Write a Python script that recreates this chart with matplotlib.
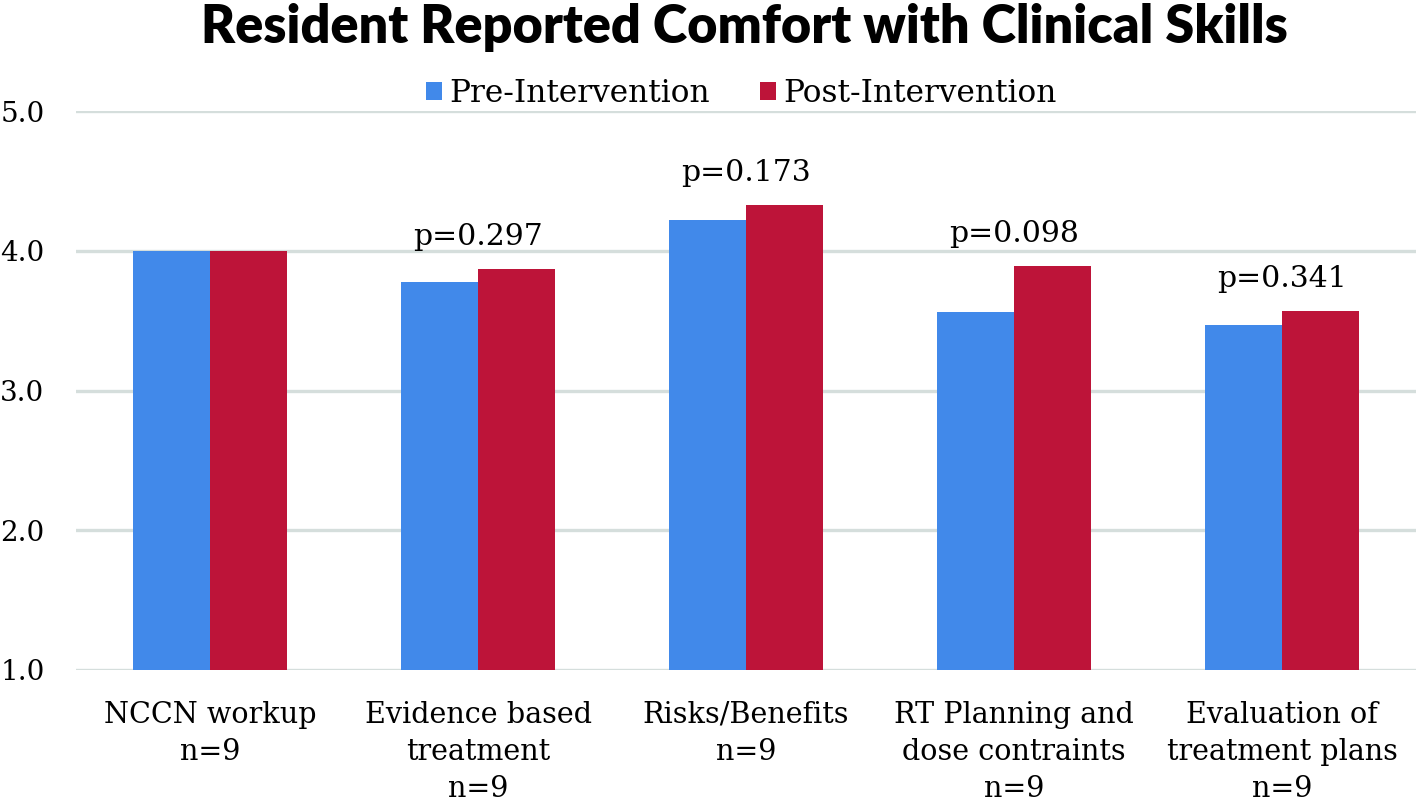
import matplotlib
matplotlib.use("Agg")
import matplotlib.pyplot as plt
import numpy as np

categories = ["NCCN workup\nn=9", "Evidence based\ntreatment\nn=9", "Risks/Benefits\nn=9",
              "RT Planning and\ndose contraints\nn=9", "Evaluation of\ntreatment plans\nn=9"]
pre = [4.00, 3.78, 4.22, 3.56, 3.47]
post = [4.00, 3.87, 4.33, 3.89, 3.57]
pvalues = [None, "p=0.297", "p=0.173", "p=0.098", "p=0.341"]
yticks = [1.0, 2.0, 3.0, 4.0, 5.0]

blue = "#4189EA"
red = "#BD1439"
serif = "DejaVu Serif"

fig = plt.figure(figsize=(14.18, 8.08), dpi=100)
ax = fig.add_axes([0.0536, 0.1708, 0.9450, 0.6918])

x = np.arange(len(categories))
w = 0.287
ax.bar(x - w / 2, np.array(pre) - 1.0, w, bottom=1.0, color=blue, zorder=3, label="Pre-Intervention")
ax.bar(x + w / 2, np.array(post) - 1.0, w, bottom=1.0, color=red, zorder=3, label="Post-Intervention")

for xi, p, a, b in zip(x, pvalues, pre, post):
    if p:
        ax.annotate(p, (xi, max(a, b)), xytext=(0, 13), textcoords="offset points",
                    ha="center", va="bottom", fontsize=21.5, family=serif)

ax.set_xlim(-0.5, len(categories) - 0.5)
ax.set_ylim(1.0, 5.0)
ax.set_yticks(yticks)
ax.set_yticklabels([f"{v:.1f}" for v in yticks], fontsize=20, family=serif)
ax.set_xticks(x)
ax.set_xticklabels(categories, fontsize=20.6, family=serif, linespacing=1.42)
ax.tick_params(axis="both", length=0)
ax.tick_params(axis="x", pad=22)
ax.tick_params(axis="y", pad=54.5)
for lbl in ax.get_yticklabels():
    lbl.set_horizontalalignment("left")
ax.grid(axis="y", color="#D5DEDC", linewidth=2.4, zorder=0)
for s in ax.spines.values():
    s.set_visible(False)

fig.text(0.525, 0.966, "Resident Reported Comfort with Clinical Skills", ha="center", va="center",
         fontsize=37.5, fontweight="heavy", family="Lato")

leg = fig.legend(loc="center", bbox_to_anchor=(0.523, 0.884), ncol=2, frameon=False,
                 prop={"family": serif, "size": 22.5}, handlelength=0.5, handleheight=0.5,
                 handletextpad=0.25, columnspacing=1.6)

fig.savefig("out.png", dpi=100)
